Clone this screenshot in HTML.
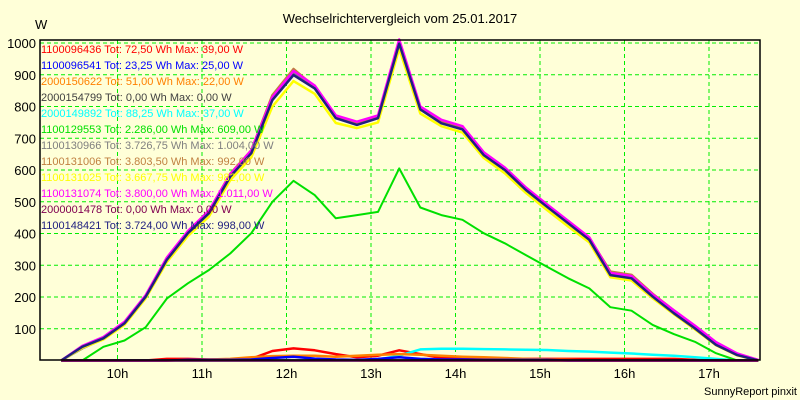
<!DOCTYPE html>
<html><head><meta charset="utf-8"><style>
html,body{margin:0;padding:0;background:#ffffd8;}
svg{display:block;font-family:"Liberation Sans",Arial,sans-serif;}
</style></head><body>
<svg id="chart" width="800" height="400" viewBox="0 0 800 400" xmlns="http://www.w3.org/2000/svg">
<rect x="0" y="0" width="800" height="400" fill="#ffffd8"/>
<text x="400" y="23" text-anchor="middle" font-size="13" fill="#000">Wechselrichtervergleich vom 25.01.2017</text>
<text x="35" y="29" font-size="13" fill="#000">W</text>
<text x="797" y="395" text-anchor="end" font-size="11" fill="#000">SunnyReport pinxit</text>
<g id="grid"></g>
<g id="axes"></g>
<g id="series"></g>
<rect x="40" y="40" width="720" height="320" fill="none" stroke="#000" stroke-width="1.5"/>
<g id="legend"></g>
</svg>
<script>
// times: minutes since midnight, 15-min steps from 9:20
const startMinute = 560;
const stepMinutes = 15;
const yTicks = [100,200,300,400,500,600,700,800,900,1000];
const xTickHours = [10,11,12,13,14,15,16,17];
const xTickLabels = ["10h","11h","12h","13h","14h","15h","16h","17h"];

const gray    = [0,38,68,115,200,318,402,466,580,658,828,905,858,765,746,766,1004,792,750,732,650,602,540,486,434,382,272,262,204,152,104,52,18,0];
const brown   = [0,42,70,118,202,322,406,470,588,662,836,918,862,770,748,770,992,796,755,736,655,606,544,490,438,386,280,270,210,158,108,55,20,2];
const yellow  = [0,40,66,112,196,310,392,454,568,640,800,880,840,748,732,750,982,778,738,718,638,590,528,474,422,372,262,252,196,146,98,48,16,0];
const magenta = [0,46,74,122,206,324,408,472,586,662,830,912,866,772,752,772,1011,800,758,738,656,608,545,492,440,388,276,266,208,158,110,58,22,2];
const navy    = [0,43,70,117,201,317,401,464,579,653,820,899,857,763,742,763,998,791,747,728,647,600,537,484,432,380,269,259,201,149,101,49,17,0];
const green   = [0,0,43,63,105,195,243,285,337,401,500,566,521,448,458,468,605,482,458,443,401,369,332,295,259,227,168,157,112,83,59,23,0,0];
const red     = [0,0,0,0,0,5,5,3,3,5,30,38,32,20,10,15,32,20,8,8,5,5,5,5,5,5,5,5,5,5,2,0,0,0];
const blue    = [0,0,0,0,0,0,2,2,2,3,8,12,6,3,2,5,10,5,3,3,2,2,2,2,0,0,0,0,0,0,0,0,0,0];
const orange  = [0,0,0,0,0,0,2,3,5,10,14,15,15,12,15,18,20,18,15,12,10,8,5,3,2,0,0,0,0,0,0,0,0,0];
const cyan    = [0,0,0,0,0,0,0,0,0,0,0,0,0,0,0,3,15,35,37,37,36,35,34,33,30,28,25,22,18,15,10,5,0,0];
const darkgray= [0,0,0,0,0,0,0,0,0,0,0,0,0,0,0,0,0,0,0,0,0,0,0,0,0,0,0,0,0,0,0,0,0,0];
const purple  = [0,0,0,0,0,0,0,0,0,0,0,0,0,0,0,0,0,0,0,0,0,0,0,0,0,0,0,0,0,0,0,0,0,0];

const legendTexts = [
 "1100096436 Tot: 72,50 Wh Max: 39,00 W",
 "1100096541 Tot: 23,25 Wh Max: 25,00 W",
 "2000150622 Tot: 51,00 Wh Max: 22,00 W",
 "2000154799 Tot: 0,00 Wh Max: 0,00 W",
 "2000149892 Tot: 88,25 Wh Max: 37,00 W",
 "1100129553 Tot: 2.286,00 Wh Max: 609,00 W",
 "1100130966 Tot: 3.726,75 Wh Max: 1.004,00 W",
 "1100131006 Tot: 3.803,50 Wh Max: 992,00 W",
 "1100131025 Tot: 3.667,75 Wh Max: 982,00 W",
 "1100131074 Tot: 3.800,00 Wh Max: 1.011,00 W",
 "2000001478 Tot: 0,00 Wh Max: 0,00 W",
 "1100148421 Tot: 3.724,00 Wh Max: 998,00 W"
];
const legendColors = ["#ff0000","#0000ff","#ff8000","#404040","#00ffff","#00e000","#808080","#c08040","#ffff00","#ff00ff","#800050","#202080"];

const NS="http://www.w3.org/2000/svg";
function xScale(min){ return 117.5 + (min-600)/60*84.5; }
function yScale(v){ return 360.5 - v*0.3175; }
function mk(tag,parent,attrs){ const e=document.createElementNS(NS,tag); for(const k in attrs) e.setAttribute(k,attrs[k]); parent.appendChild(e); return e; }

const grid=document.getElementById('grid'), axes=document.getElementById('axes'), ser=document.getElementById('series'), leg=document.getElementById('legend');
yTicks.forEach(v=>{
  const y=yScale(v);
  const l=mk('line',grid,{x1:40,x2:760,y1:y,y2:y,stroke:'#00ee00','stroke-width':1,'stroke-dasharray':'4,3'});
  
  
  const t=mk('text',axes,{x:36,y:y+5,'text-anchor':'end','font-size':13,fill:'#000'});
  t.textContent=v;
  
  
});
xTickHours.forEach((h,i)=>{
  const x=xScale(h*60);
  const l=mk('line',grid,{x1:x,x2:x,y1:40,y2:360,stroke:'#00ee00','stroke-width':1,'stroke-dasharray':'4,3'});
  
  
  const t=mk('text',axes,{x:x,y:378,'text-anchor':'middle','font-size':13,fill:'#000'});
  t.textContent=xTickLabels[i];
  
  
});
const seriesList=[
 [darkgray,"#404040","series-2000154799"],
 [red,"#ff0000","series-1100096436"],
 [cyan,"#00ffff","series-2000149892"],
 [orange,"#ff8000","series-2000150622"],
 [blue,"#0000ff","series-1100096541"],
 [green,"#00e000","series-1100129553"],
 [gray,"#808080","series-1100130966"],
 [brown,"#c08040","series-1100131006"],
 [yellow,"#ffff00","series-1100131025"],
 [magenta,"#ff00ff","series-1100131074"],
 [navy,"#202080","series-1100148421"],
 [purple,"#800050","series-2000001478"]
];
seriesList.forEach(([arr,col,name])=>{
  const pts=arr.map((v,i)=>xScale(startMinute+i*stepMinutes).toFixed(1)+","+yScale(v).toFixed(1)).join(" ");
  const p=mk('polyline',ser,{points:pts,fill:'none',stroke:col,'stroke-width':(col=="#00e000"?2:2.5),'stroke-linejoin':'round'});
  
  
});
legendTexts.forEach((txt,i)=>{
  const t=mk('text',leg,{x:41,y:53+i*16,'font-size':11,fill:legendColors[i]});
  t.textContent=txt;
  
  
});
</script>
</body></html>
